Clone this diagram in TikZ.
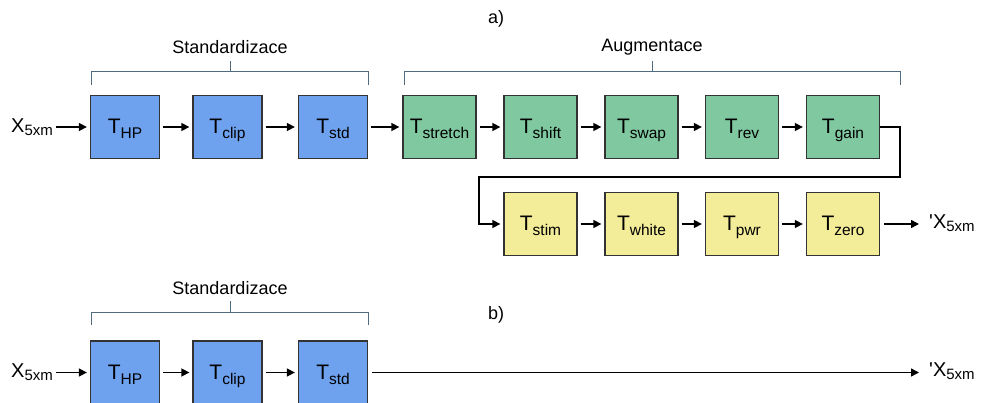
\documentclass[tikz,border=0pt]{standalone}
\usepackage{fontspec}
\setmainfont{Liberation Sans}
\usetikzlibrary{arrows.meta,calc}
\definecolor{boxblue}{HTML}{6EA2EF}
\definecolor{boxgreen}{HTML}{80C9A0}
\definecolor{boxyellow}{HTML}{F3EC98}
\definecolor{edgegray}{HTML}{333333}
\definecolor{brackc}{HTML}{4F6B80}
\newcommand{\mkT}[1]{{\fontsize{21}{21}\selectfont T\raisebox{-5pt}{\fontsize{15.5}{15.5}\selectfont #1}}}
\newcommand{\mkX}[1]{{\fontsize{20}{20}\selectfont #1X\raisebox{-3pt}{\fontsize{15}{15}\selectfont 5xm}}}
\begin{document}
\begin{tikzpicture}[x=1pt,y=-1pt,
  blk/.style={draw=edgegray, line width=1.3pt, minimum height=63pt, inner sep=0pt, text height=19pt, text depth=5pt},
  bblk/.style={blk, fill=boxblue, minimum width=69pt},
  gblk/.style={blk, fill=boxgreen, minimum width=73pt},
  yblk/.style={blk, fill=boxyellow, minimum width=73pt},
  flow/.style={line width=1.5pt, -{Triangle[length=8pt,width=8pt]}, shorten >=3pt, shorten <=3pt},
  brk/.style={draw=brackc, line width=1pt},
  lbl/.style={font=\fontsize{18}{18}\selectfont, inner sep=0pt}]
\useasboundingbox (0,0) rectangle (983,403);

% ---------- a) ----------
\node[lbl] (la) at (496,19) {a)};
\node[lbl, anchor=west] (xin) at (11,127) {\mkX{}};
\node[bblk] (hp) at (125,127) {\mkT{HP}};
\node[bblk] (clip) at (227.5,127) {\mkT{clip}};
\node[bblk] (std) at (333,127) {\mkT{std}};
\node[gblk] (stretch) at (439.5,127) {\mkT{stretch}};
\node[gblk] (shift) at (540.5,127) {\mkT{shift}};
\node[gblk] (swap) at (641.5,127) {\mkT{swap}};
\node[gblk] (rev) at (742,127) {\mkT{rev}};
\node[gblk] (gain) at (843,127) {\mkT{gain}};
\node[yblk] (stim) at (540.5,224) {\mkT{stim}};
\node[yblk] (white) at (641.5,224) {\mkT{white}};
\node[yblk] (pwr) at (742,224) {\mkT{pwr}};
\node[yblk] (zero) at (843,224) {\mkT{zero}};
\node[lbl, anchor=west] (xout) at (929,223) {\mkX{\textquotesingle}};

\draw[flow] (xin) -- (hp);
\draw[flow] (hp) -- (clip);
\draw[flow] (clip) -- (std);
\draw[flow] (std) -- (stretch);
\draw[flow] (stretch) -- (shift);
\draw[flow] (shift) -- (swap);
\draw[flow] (swap) -- (rev);
\draw[flow] (rev) -- (gain);
\coordinate (c1) at (900,127);
\coordinate (c2) at (900,177);
\coordinate (c3) at (479,177);
\draw[flow, shorten <=0pt] (gain.east) -- (c1) -- (c2) -- (c3) |- (stim.west);
\draw[flow] (stim) -- (white);
\draw[flow] (white) -- (pwr);
\draw[flow] (pwr) -- (zero);
\draw[flow, shorten <=4pt, shorten >=10pt] (zero.east) -- (xout.west |- zero.east);

\node[lbl] (lstd) at (230,47) {Standardizace};
\draw[brk] (91,85) -- (91,72) -- (368,72) -- (368,85);
\draw[brk] (230,72) -- (230,61);
\node[lbl] (laug) at (652,47) {Augmentace};
\draw[brk] (404,85) -- (404,72) -- (900,72) -- (900,85);
\draw[brk] (652,72) -- (652,61);

% ---------- b) ----------
\node[lbl] (lb) at (496,315) {b)};
\node[lbl, anchor=west] (xin2) at (11,372.5) {\mkX{}};
\node[bblk] (hp2) at (125,372.5) {\mkT{HP}};
\node[bblk] (clip2) at (227.5,372.5) {\mkT{clip}};
\node[bblk] (std2) at (333,372.5) {\mkT{std}};
\node[lbl, anchor=west] (xout2) at (929,371.5) {\mkX{\textquotesingle}};
\draw[flow] (xin2) -- (hp2);
\draw[flow] (hp2) -- (clip2);
\draw[flow] (clip2) -- (std2);
\draw[flow, shorten <=4pt, shorten >=10pt] (std2.east) -- (xout2.west |- std2.east);

\node[lbl] (lstd2) at (230,288) {Standardizace};
\draw[brk] (91,325) -- (91,313) -- (368,313) -- (368,325);
\draw[brk] (230,313) -- (230,301);
\end{tikzpicture}
\end{document}
